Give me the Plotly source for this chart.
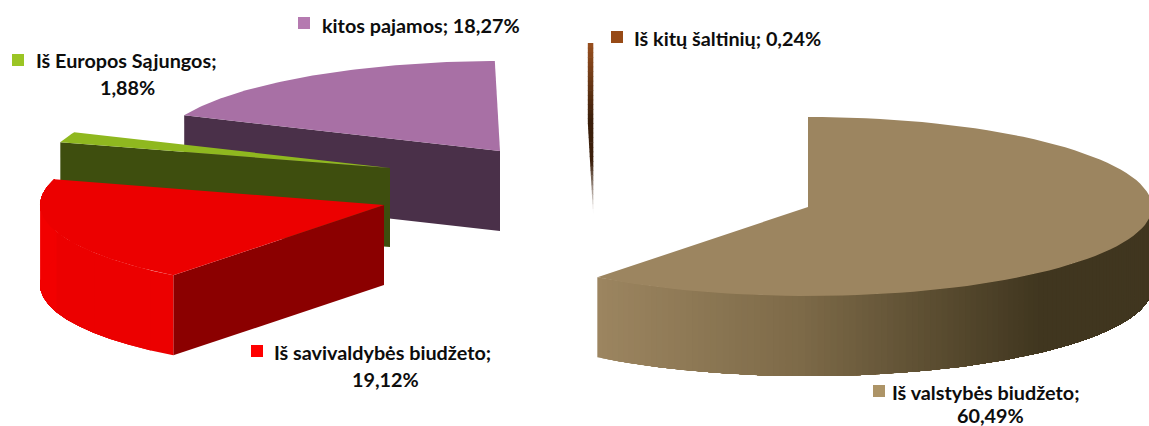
import math
import plotly.graph_objects as go

# ---- data ----
categories = ["Iš valstybės biudžeto", "Iš savivaldybės biudžeto", "Iš Europos Sąjungos", "kitos pajamos", "Iš kitų šaltinių"]
values = [60.49, 19.12, 1.88, 18.27, 0.24]

# ---- styles and layout constants ----
W, H = 1149, 426
RX, RY_BACK, RY_FRONT = 344, 90, 89
centers = {0: (808, 207), 1: (384, 205), 2: (390, 168), 3: (500, 151), 4: (593, 133)}
depths = {0: 80, 1: 80, 2: 79, 3: 80, 4: 80}
top_colors = ["#9c8560", "#ec0000", "#8fb81f", "#a870a5", "#99501f"]
face_colors = [None, "#8b0000", "#3e4e0e", "#4a3049", "#3a1e0a"]
key_colors = ["#ad9467", "#ff0000", "#9bc524", "#b57ab0", "#974a16"]
key_pos = [(879, 391), (257, 351), (18, 60), (304, 23), (617, 37)]
first_line_pos = [(891, 392), (273, 352), (35, 60), (321, 25), (633, 38)]
second_line_pos = [(990, 415), (385, 379), (127, 87), None, None]

# slice angles (degrees clockwise from 12 o'clock), from the values
total = sum(values)
angles = []
acc = 0.0
for v in values:
    angles.append((acc / total * 360, (acc + v) / total * 360))
    acc += v


def pt(i, deg, r=1.0, drop=0.0):
    cx, cy = centers[i]
    a = math.radians(deg)
    c = math.cos(a)
    ry = RY_BACK if c > 0 else RY_FRONT
    return cx + RX * r * math.sin(a), cy - ry * r * c + drop


def mix(c1, c2, t):
    t = max(0.0, min(1.0, t))
    a = [int(c1[k:k + 2], 16) for k in (1, 3, 5)]
    b = [int(c2[k:k + 2], 16) for k in (1, 3, 5)]
    return "#%02x%02x%02x" % tuple(round(p + (q - p) * t) for p, q in zip(a, b))


fig = go.Figure()


def poly(pts, color):
    xs = [p[0] for p in pts] + [pts[0][0]]
    ys = [p[1] for p in pts] + [pts[0][1]]
    fig.add_trace(go.Scatter(x=xs, y=ys, mode="lines", fill="toself", fillcolor=color,
                             line=dict(color=color, width=0), hoverinfo="skip", showlegend=False))


def arc(i, a0, a1, n=90, drop=0.0):
    return [pt(i, a0 + (a1 - a0) * k / n, 1.0, drop) for k in range(n + 1)]


def radial_face(i, deg, color):
    d = depths[i]
    poly([pt(i, deg, 0), pt(i, deg), pt(i, deg, 1, d), pt(i, deg, 0, d)], color)


def top_face(i):
    a0, a1 = angles[i]
    poly([pt(i, a0, 0)] + arc(i, a0, a1), top_colors[i])


def side_strips(i, a0, a1, color_fn, n=80):
    """Outer wall, each strip painted over the tail of the previous one so no seams show."""
    d = depths[i]
    step = (a1 - a0) / n
    for k in range(n):
        s = a0 + step * k
        p = pt(i, s + step / 2)
        pts_top = arc(i, s, a1, n=max(2, n - k))
        pts_bot = arc(i, a1, s, n=max(2, n - k), drop=d)
        poly(pts_top + pts_bot, color_fn(p[0]))


# kitos pajamos (rear)
radial_face(3, angles[3][0], face_colors[3])
top_face(3)

# Iš Europos Sąjungos
radial_face(2, angles[2][0], face_colors[2])
top_face(2)

# Iš savivaldybės biudžeto
radial_face(1, angles[1][0], face_colors[1])
side_strips(1, angles[1][0], angles[1][1], lambda x: "#ec0000" if x > 56 else "#f20000", n=14)
top_face(1)

# Iš kitų šaltinių: the thin sliver, fading towards its base
a0, a1 = angles[4]
d4 = depths[4]
n_sl = 36
cx4, cy4 = centers[4]
outer_top = pt(4, a0)
kink = outer_top[1] + d4


def left(y):
    if y <= kink:
        return outer_top[0]
    return outer_top[0] + (cx4 - outer_top[0]) * (y - kink) / (cy4 + d4 - kink)


for k in range(n_sl):
    t0, t1 = k / n_sl, (k + 1) / n_sl
    frac = (t0 + t1) / 2
    col = mix("#99501f", "#3a1e0a", frac / 0.45) if frac < 0.7 else mix("#3a1e0a", "#ffffff", (frac - 0.7) / 0.3)
    y0 = outer_top[1] + t0 * (cy4 + d4 - outer_top[1])
    y1 = outer_top[1] + t1 * (cy4 + d4 - outer_top[1]) + 0.6
    poly([(left(y0), y0), (cx4 + 0.3, y0), (cx4 + 0.3, y1), (left(y1), y1)], col)

# Iš valstybės biudžeto (front)
xl = pt(0, angles[0][1])[0]


def big_side(x):
    if x < 800:
        return mix("#9c8560", "#7d6a48", (x - xl) / (800 - xl))
    return mix("#7d6a48", "#40361f", (x - 800) / 240)


side_strips(0, angles[0][1], 90, big_side, n=120)
top_face(0)

# ---- keys ----
fig.add_trace(go.Scatter(x=[p[0] for p in key_pos], y=[p[1] for p in key_pos], mode="markers",
                         marker=dict(symbol="square", size=12, color=key_colors, line=dict(width=0)),
                         hoverinfo="skip", showlegend=False))

# ---- labels ----
font = dict(family="Lato", size=19.8, color="#0d0d0d", weight="bold")
for i, name in enumerate(categories):
    num = f"{values[i]:.2f}".replace(".", ",") + "%"
    fx, fy = first_line_pos[i]
    if second_line_pos[i] is None:
        fig.add_annotation(x=fx, y=fy, text=f"<b>{name}; {num}</b>", showarrow=False, xanchor="left", yanchor="middle", font=font, borderpad=0)
    else:
        fig.add_annotation(x=fx, y=fy, text=f"<b>{name};</b>", showarrow=False, xanchor="left", yanchor="middle", font=font, borderpad=0)
        sx, sy = second_line_pos[i]
        fig.add_annotation(x=sx, y=sy, text=f"<b>{num}</b>", showarrow=False, xanchor="center", yanchor="middle", font=font, borderpad=0)

fig.update_layout(width=W, height=H, margin=dict(l=0, r=0, t=0, b=0), paper_bgcolor="white", plot_bgcolor="white",
                  xaxis=dict(range=[0, W], visible=False, fixedrange=True),
                  yaxis=dict(range=[H, 0], visible=False, fixedrange=True),
                  showlegend=False)
fig.write_html("out.html", config={"displayModeBar": False},
               post_script="document.body.style.margin='0';document.documentElement.style.overflow='hidden';")
